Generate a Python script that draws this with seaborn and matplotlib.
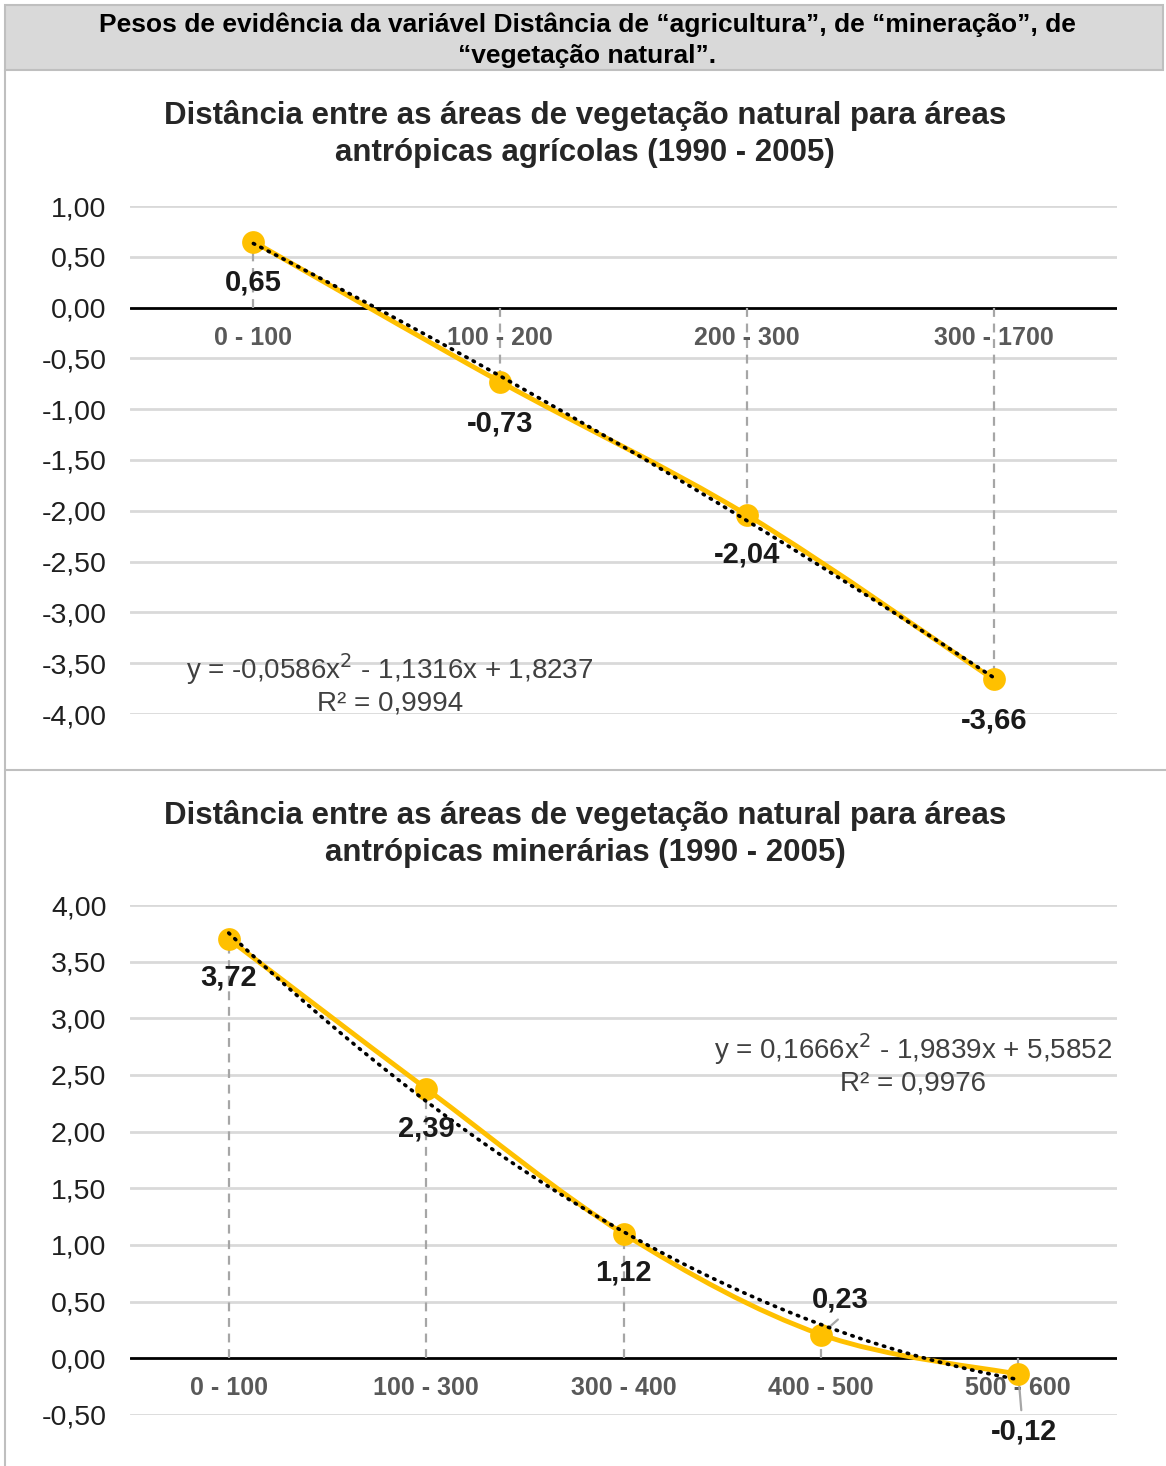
import numpy as np
import pandas as pd
import matplotlib
matplotlib.use("Agg")
import matplotlib.pyplot as plt
from matplotlib.path import Path
from matplotlib.patches import PathPatch, Rectangle
from matplotlib.lines import Line2D
from matplotlib.ticker import FuncFormatter, MultipleLocator
import seaborn as sns

sns.set_theme(style="white")
plt.rcParams['font.family'] = ['Liberation Sans', 'DejaVu Sans']

# ---------------- data ----------------
header_text = "Pesos de evidência da variável Distância de “agricultura”, de “mineração”, de\n“vegetação natural”."

agri_title = "Distância entre as áreas de vegetação natural para áreas\nantrópicas agrícolas (1990 - 2005)"
agri_cats = ["0 - 100", "100 - 200", "200 - 300", "300 - 1700"]
agri_vals = [0.65, -0.73, -2.04, -3.66]
agri_labels = ["0,65", "-0,73", "-2,04", "-3,66"]
agri_eq = "y = -0,0586x$^2$ - 1,1316x + 1,8237\nR² = 0,9994"

mine_title = "Distância entre as áreas de vegetação natural para áreas\nantrópicas minerárias (1990 - 2005)"
mine_cats = ["0 - 100", "100 - 300", "300 - 400", "400 - 500", "500 - 600"]
mine_vals = [3.70, 2.38, 1.10, 0.21, -0.14]
mine_labels = ["3,72", "2,39", "1,12", "0,23", "-0,12"]
mine_eq = "y = 0,1666x$^2$ - 1,9839x + 5,5852\nR² = 0,9976"

W, H = 1166, 1466
fig = plt.figure(figsize=(W / 100, H / 100), dpi=100)
fig.patch.set_facecolor("white")

def fx(px):
    return px / W

def fy(py):
    return 1 - py / H

YELLOW = "#FFC000"
GRID = "#d9d9d9"

# ---------------- frame ----------------
fig.add_artist(Rectangle((fx(5), fy(70)), fx(1163) - fx(5), fy(5) - fy(70),
                         transform=fig.transFigure, facecolor="#d9d9d9",
                         edgecolor="#bfbfbf", lw=1.5))
fig.add_artist(Line2D([fx(5), fx(5)], [fy(70), fy(1466)], transform=fig.transFigure,
                      color="#bfbfbf", lw=1.5))
fig.add_artist(Line2D([fx(5), fx(1166)], [fy(770), fy(770)], transform=fig.transFigure,
                      color="#bfbfbf", lw=1.5))
fig.text(fx(587), fy(40), header_text, ha="center", va="center", fontsize=19,
         fontweight="bold", color="black", linespacing=1.38)


def smooth_path(xs, ys):
    pts = np.column_stack([xs, ys]).astype(float)
    n = len(pts)
    verts = [pts[0]]
    codes = [Path.MOVETO]
    for i in range(n - 1):
        p0 = pts[max(i - 1, 0)]
        p1 = pts[i]
        p2 = pts[i + 1]
        p3 = pts[min(i + 2, n - 1)]
        c1 = p1 + (p2 - p0) / 6.0
        c2 = p2 - (p3 - p1) / 6.0
        verts += [c1, c2, p2]
        codes += [Path.CURVE4] * 3
    return Path(verts, codes)


def draw_chart(top_px, bottom_px, ylo, yhi, cats, vals, labels, title, title_y,
               eq, eq_xy, eq_ha, label_offsets, leaders):
    ax = fig.add_axes([fx(130), fy(bottom_px), fx(1117) - fx(130), fy(top_px) - fy(bottom_px)])
    n = len(cats)
    xs = np.arange(n)
    df = pd.DataFrame({"x": xs, "y": vals})
    ax.set_xlim(-0.5, n - 0.5)
    ax.set_ylim(ylo, yhi)
    ax.yaxis.set_major_locator(MultipleLocator(0.5))
    ax.yaxis.set_major_formatter(FuncFormatter(lambda v, p: f"{v:.2f}".replace(".", ",")))
    ax.set_xticks([])
    for s in ax.spines.values():
        s.set_visible(False)
    ax.tick_params(axis="y", length=0, pad=17, labelsize=20.5, labelcolor="#1f1f1f")
    for t in np.arange(ylo, yhi + 0.01, 0.5):
        if abs(t) > 1e-9:
            ax.axhline(t, color=GRID, lw=2, zorder=1)
    ax.axhline(0, color="black", lw=2, zorder=2)

    # drop lines
    for x, v in zip(xs, vals):
        ax.plot([x, x], [0, v], color="#a6a6a6", lw=1.6, ls=(0, (4, 3)), zorder=2)

    # category labels at zero line
    for x, c in zip(xs, cats):
        ax.annotate(c, (x, 0), xytext=(0, -30), textcoords="offset pixels",
                    ha="center", va="center", fontsize=18, fontweight="bold",
                    color="#595959", zorder=3)

    # smooth series line
    ax.add_patch(PathPatch(smooth_path(xs, vals), facecolor="none", edgecolor=YELLOW,
                           lw=3.5, zorder=4, capstyle="round"))
    sns.scatterplot(data=df, x="x", y="y", ax=ax, color=YELLOW, s=230,
                    edgecolor=YELLOW, zorder=5, legend=False)

    # trendline (order-2 polynomial fit, x = 1..n)
    coef = np.polyfit(xs + 1, vals, 2)
    tx = np.linspace(1, n, 300)
    ty = np.polyval(coef, tx)
    sns.lineplot(x=tx - 1, y=ty, ax=ax, color="black", lw=2.6,
                 linestyle=(0, (0.4, 1.9)), zorder=6, sort=False)
    ax.lines[-1].set_dash_capstyle("round")

    # data labels
    for x, v, lab, off in zip(xs, vals, labels, label_offsets):
        ax.annotate(lab, (x, v), xytext=off, textcoords="offset pixels",
                    ha="center", va="center", fontsize=21, fontweight="bold",
                    color="#1a1a1a", zorder=7, annotation_clip=False)
    for (i, start, end) in leaders:
        ax.annotate("", (xs[i], vals[i]), xytext=end, textcoords="offset pixels",
                    arrowprops=dict(arrowstyle="-", color="#a6a6a6", lw=1.6,
                                    shrinkA=0, shrinkB=0), zorder=3,
                    annotation_clip=False)

    ax.set_xlabel("")
    ax.set_ylabel("")
    ax.set_xticks([])

    fig.text(fx(eq_xy[0]), fy(eq_xy[1]), eq, ha=eq_ha, va="center", fontsize=20,
             color="#404040", linespacing=1.15, multialignment="center")
    fig.text(fx(585), fy(title_y), title, ha="center", va="center", fontsize=22.5,
             fontweight="bold", color="#262626", linespacing=1.3)
    return ax


draw_chart(206, 714, -4.0, 1.0, agri_cats, agri_vals, agri_labels, agri_title, 134,
           agri_eq, (390, 684), "center",
           [(0, -41), (0, -42), (0, -40), (0, -41)], [])

draw_chart(905, 1415, -0.5, 4.0, mine_cats, mine_vals, mine_labels, mine_title, 834,
           mine_eq, (1112, 1064), "right",
           [(0, -38), (0, -40), (0, -39), (19, 35), (6, -57)],
           [(3, 0, (17, 15)), (4, 0, (3, -36))])

fig.savefig("out.png", dpi=100, facecolor="white")
